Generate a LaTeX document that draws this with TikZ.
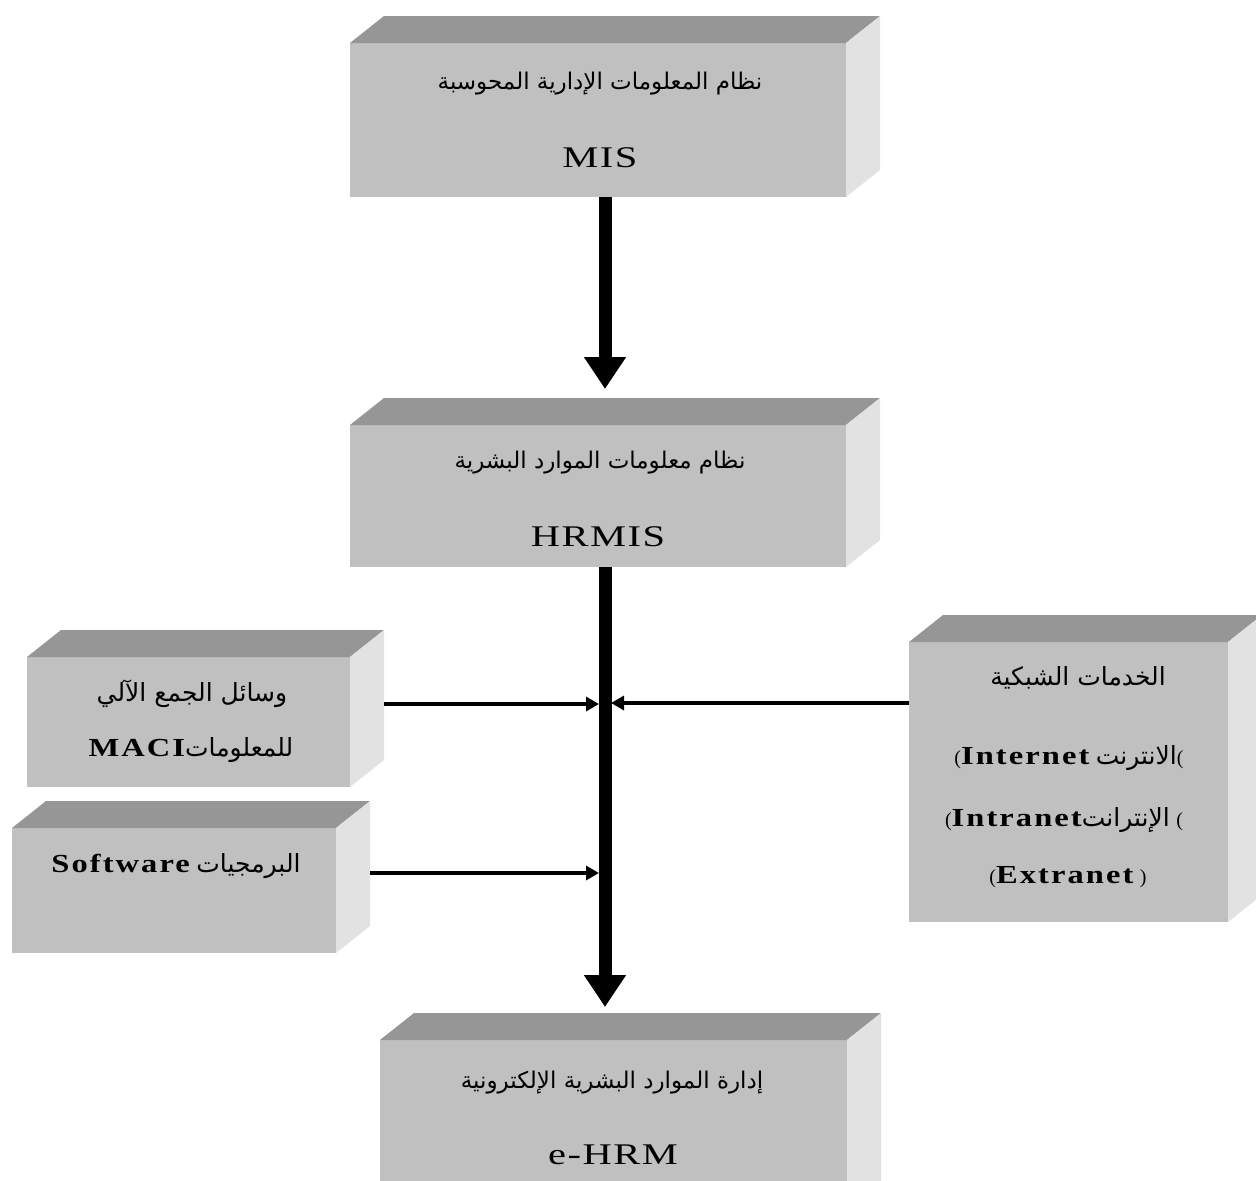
\documentclass[tikz,border=0pt]{standalone}
\usepackage{fontspec}
\usetikzlibrary{arrows.meta}
\setmainfont{Liberation Serif}
\TeXXeTstate=1
\newfontfamily\arabicfont[Script=Arabic]{DejaVu Sans}
\newfontfamily\latreg[FakeStretch=1.35,LetterSpace=5]{Liberation Serif}
\newfontfamily\latbf[FakeStretch=1.25,LetterSpace=8]{Liberation Serif}

\definecolor{frontgray}{HTML}{C0C0C0}
\definecolor{topgray}{HTML}{969696}
\definecolor{sidegray}{HTML}{E2E2E2}

\tikzset{
  frontface/.style={fill=frontgray, inner sep=0pt, outer sep=0pt},
  topface/.style={fill=topgray},
  sideface/.style={fill=sidegray},
  artext/.style={inner sep=0pt, font=\arabicfont\fontsize{23}{27}\selectfont},
  artextb/.style={inner sep=0pt, font=\arabicfont\fontsize{25}{29}\selectfont},
  abbrev/.style={inner sep=0pt, font=\latreg\fontsize{30}{34}\selectfont},
  mixtext/.style={inner sep=0pt, font=\fontsize{26}{30}\selectfont},
  bigarrow/.style={line width=13pt, -{Triangle[length=32pt,width=40pt]}},
  smallarrow/.style={line width=4pt, -{Triangle[length=13pt,width=14pt]}},
}

% raised box: front face node plus top and right faces
\newcommand\cubebox[5]{%
  \node[frontface, minimum width=#4pt-#2pt, minimum height=#5pt-#3pt]
    (#1) at ({(#2+#4)/2},{(#3+#5)/2}) {};
  \fill[topface] (#1.north west) -- ++(34,-27)
    -- ([shift={(34,-27)}]#1.north east) -- (#1.north east) -- cycle;
  \fill[sideface] (#1.north east) -- ++(34,-27)
    -- ([shift={(34,-27)}]#1.south east) -- (#1.south east) -- cycle;
  \coordinate (#1-r) at ([xshift=34pt]#1.east);
}

\newcommand\ar[1]{{\arabicfont\beginR #1\endR}}
\newcommand\arb[1]{{\arabicfont\fontsize{25}{29}\selectfont\beginR #1\endR}}
\newcommand\bl[1]{{\latbf\bfseries #1}}
\newcommand\paren[1]{{\fontsize{20}{24}\selectfont #1}}

\begin{document}
\begin{tikzpicture}[x=1pt, y=-1pt]
\useasboundingbox[fill=white] (0,0) rectangle (1256,1181);

% boxes
\cubebox{mis}{350}{43}{846}{197}
\cubebox{hrmis}{350}{425}{846}{567}
\cubebox{maci}{27}{657}{350}{787}
\cubebox{soft}{12}{828}{336}{953}
\cubebox{net}{909}{642}{1228}{922}
\cubebox{ehrm}{380}{1040}{847}{1215}

% labels
\node[artext] (misar) at (600,84) {\ar{نظام المعلومات الإدارية المحوسبة}};
\node[abbrev] (mist) at (600,158) {MIS};
\node[artext] (hrar) at (600,463) {\ar{نظام معلومات الموارد البشرية}};
\node[abbrev] (hrt) at (598,537) {HRMIS};
\node[artextb] (maciar) at (192,694) {\ar{وسائل الجمع الآلي}};
\node[mixtext] (macit) at (191,750) {\bl{MACI}\arb{للمعلومات}};
\node[mixtext] (softt) at (176,866) {\bl{Software} \arb{البرمجيات}};
\node[artextb] (netar) at (1078,678) {\ar{الخدمات الشبكية}};
\node[mixtext] (net1) at (1069,758) {\paren{(}\bl{Internet} \arb{الانترنت}\paren{(}};
\node[mixtext] (net2) at (1064,820) {\paren{(}\bl{Intranet}\arb{الإنترانت} \paren{(}};
\node[mixtext] (net3) at (1068,877) {\paren{(}\bl{Extranet} \paren{)}};
\node[artext] (ehrmar) at (612,1083) {\ar{إدارة الموارد البشرية الإلكترونية}};
\node[abbrev] (ehrmt) at (613,1155) {e-HRM};

% connectors
\coordinate (spine) at (605,0);
\coordinate (inA) at (599,704);
\coordinate (inB) at (611,703);
\coordinate (inC) at (599,873);

\draw[bigarrow, shorten >=36pt] (mis.south -| spine) -- (hrmis.north -| spine);
\draw[bigarrow, shorten >=33pt] (hrmis.south -| spine) -- (ehrm.north -| spine);
\draw[smallarrow] (maci-r |- inA) -- (inA);
\draw[smallarrow] (net.west |- inB) -- (inB);
\draw[smallarrow] (soft-r |- inC) -- (inC);
\end{tikzpicture}
\end{document}
